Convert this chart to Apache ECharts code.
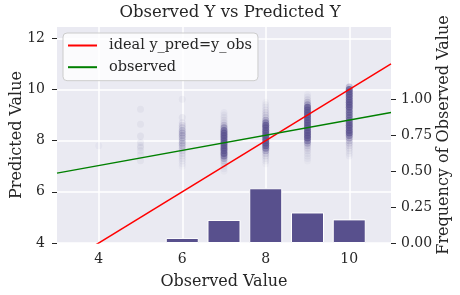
<!DOCTYPE html>
<html>
<head>
<meta charset="utf-8">
<script src="https://cdn.jsdelivr.net/npm/echarts@6/dist/echarts.min.js"></script>
<style>
html,body{margin:0;padding:0;background:#fff;}
#chart{width:460px;height:295px;}
</style>
</head>
<body>
<div id="chart"></div>
<script>
// ---- data ----
const xTicks = [4, 6, 8, 10];
const yLeftTicks = [4, 6, 8, 10, 12];
const yRightTicks = [0, 0.25, 0.5, 0.75, 1.0];

const barX = [6, 7, 8, 9, 10];
const barFreq = [0.035, 0.16, 0.38, 0.212, 0.164];

const idealX = [3, 11];
const idealY = [3, 11];
const obsX = [3, 11];
const obsY = [6.73, 9.1];

// predicted values per observed value, with estimated density (opacity) of each
const pred4 = [7.8];
const dens4 = [0.04];
const pred5 = [9.23, 8.64, 8.18, 7.93, 7.8, 7.73, 7.6, 7.45, 7.21];
const dens5 = [0.06, 0.06, 0.07, 0.07, 0.05, 0.07, 0.06, 0.06, 0.06];
const pred6 = [9.62, 8.9, 8.7, 8.6, 8.5, 8.4, 8.3, 8.2, 8.1, 8.0, 7.9, 7.8, 7.7, 7.6, 7.5, 7.4, 7.3, 7.2, 7.1, 7.0];
const dens6 = [0.05, 0.07, 0.08, 0.12, 0.15, 0.22, 0.25, 0.25, 0.22, 0.22, 0.22, 0.18, 0.15, 0.12, 0.09, 0.07, 0.06, 0.05, 0.04, 0.03];
const pred7 = [9.1, 9.0, 8.9, 8.8, 8.7, 8.6, 8.5, 8.4, 8.3, 8.2, 8.1, 8.0, 7.9, 7.8, 7.7, 7.6, 7.5, 7.4, 7.3, 7.2, 7.1, 7.0, 6.9, 6.8];
const dens7 = [0.04, 0.05, 0.06, 0.08, 0.1, 0.2, 0.4, 0.6, 0.7, 0.7, 0.7, 0.7, 0.7, 0.7, 0.7, 0.7, 0.7, 0.5, 0.3, 0.15, 0.1, 0.06, 0.04, 0.03];
const pred8 = [9.5, 9.4, 9.3, 9.2, 9.1, 9.0, 8.9, 8.8, 8.7, 8.6, 8.5, 8.4, 8.3, 8.2, 8.1, 8.0, 7.9, 7.8, 7.7, 7.6, 7.5, 7.4, 7.3, 7.2, 7.1];
const dens8 = [0.03, 0.05, 0.06, 0.08, 0.1, 0.12, 0.15, 0.3, 0.5, 0.7, 0.7, 0.7, 0.7, 0.7, 0.7, 0.7, 0.7, 0.7, 0.5, 0.3, 0.15, 0.1, 0.06, 0.05, 0.03];
const pred9 = [9.8, 9.7, 9.6, 9.5, 9.4, 9.3, 9.2, 9.1, 9.0, 8.9, 8.8, 8.7, 8.6, 8.5, 8.4, 8.3, 8.2, 8.1, 8.0, 7.9, 7.8, 7.7, 7.6, 7.5, 7.4, 7.3, 7.2];
const dens9 = [0.04, 0.06, 0.1, 0.2, 0.35, 0.7, 0.7, 0.7, 0.7, 0.7, 0.7, 0.7, 0.7, 0.7, 0.7, 0.7, 0.7, 0.7, 0.5, 0.3, 0.15, 0.1, 0.08, 0.06, 0.05, 0.04, 0.03];
const pred10 = [10.1, 10.0, 9.9, 9.8, 9.7, 9.6, 9.5, 9.4, 9.3, 9.2, 9.1, 9.0, 8.9, 8.8, 8.7, 8.6, 8.5, 8.4, 8.3, 8.2, 8.1, 8.0, 7.9, 7.8, 7.7, 7.6, 7.5, 7.4];
const dens10 = [0.3, 0.7, 0.7, 0.7, 0.7, 0.7, 0.7, 0.7, 0.7, 0.55, 0.55, 0.55, 0.55, 0.55, 0.7, 0.7, 0.7, 0.7, 0.7, 0.5, 0.3, 0.2, 0.15, 0.1, 0.08, 0.06, 0.05, 0.04];

const scatterGroups = [
  [4, pred4, dens4], [5, pred5, dens5], [6, pred6, dens6], [7, pred7, dens7],
  [8, pred8, dens8], [9, pred9, dens9], [10, pred10, dens10]
];

// ---- build ----
const FONT = 'DejaVu Serif';
const TXT = '#262626';
const PURPLE = '#58508D';

const scatterData = [];
scatterGroups.forEach(([x, ys, ds]) => {
  ys.forEach((y, i) => scatterData.push({ value: [x, y], itemStyle: { opacity: ds[i] } }));
});

const chart = echarts.init(document.getElementById('chart'), null, { renderer: 'canvas' });
chart.setOption({
  animation: false,
  backgroundColor: '#ffffff',
  textStyle: { fontFamily: FONT, color: TXT },
  title: {
    text: 'Observed Y vs Predicted Y',
    left: 'center', top: 0, padding: [4, 5],
    textStyle: { fontFamily: FONT, fontSize: 16.5, fontWeight: 'normal', color: TXT }
  },
  grid: {
    left: 57, right: 69, top: 27, bottom: 52,
    outerBoundsMode: 'none', containLabel: false,
    show: true, backgroundColor: '#EAEAF2', borderWidth: 0
  },
  legend: {
    orient: 'vertical', left: 63, top: 33,
    backgroundColor: 'rgba(255,255,255,0.8)', borderColor: '#CCCCCC', borderWidth: 1, borderRadius: 4,
    padding: [4, 6, 5, 5], itemGap: 4.7, itemWidth: 29, itemHeight: 2,
    data: [{ name: 'ideal y_pred=y_obs', icon: 'rect' }, { name: 'observed', icon: 'rect' }],
    textStyle: { fontFamily: FONT, fontSize: 14.5, color: TXT, lineHeight: 17, padding: [0, 0, 0, 7] }
  },
  xAxis: {
    type: 'value', min: 3, max: 11,
    name: 'Observed Value', nameLocation: 'middle', nameGap: 31, nameMoveOverlap: false,
    nameTextStyle: { fontFamily: FONT, fontSize: 16, color: TXT },
    axisLine: { show: false },
    axisTick: { show: false, customValues: xTicks },
    axisLabel: { customValues: xTicks, margin: 9, fontFamily: FONT, fontSize: 14, color: TXT },
    splitLine: { show: true, lineStyle: { color: '#ffffff', width: 1.5 } }
  },
  yAxis: [
    {
      type: 'value', min: 4, max: 12.44, position: 'left',
      name: 'Predicted Value', nameLocation: 'middle', nameGap: 32, nameRotate: 90, nameMoveOverlap: false,
      nameTextStyle: { fontFamily: FONT, fontSize: 16, color: TXT },
      axisLine: { show: false },
      axisTick: { show: true, length: 5, customValues: yLeftTicks, lineStyle: { color: TXT, width: 1 } },
      axisLabel: { customValues: yLeftTicks, margin: 12, fontFamily: FONT, fontSize: 14, color: TXT },
      splitLine: { show: true, lineStyle: { color: '#ffffff', width: 1.5 } }
    },
    {
      type: 'value', min: 0, max: 1.5, position: 'right',
      name: 'Frequency of Observed Value', nameLocation: 'middle', nameGap: 45, nameRotate: 90, nameMoveOverlap: false,
      nameTextStyle: { fontFamily: FONT, fontSize: 16, color: TXT },
      axisLine: { show: false },
      axisTick: { show: true, length: 5, customValues: yRightTicks, lineStyle: { color: TXT, width: 1 } },
      axisLabel: { customValues: yRightTicks, margin: 10, fontFamily: FONT, fontSize: 14, color: TXT,
        formatter: v => v.toFixed(2) },
      splitLine: { show: false }
    }
  ],
  series: [
    {
      type: 'scatter', name: 'pred', yAxisIndex: 0, z: 2,
      symbolSize: 7, itemStyle: { color: PURPLE },
      data: scatterData
    },
    {
      type: 'bar', name: 'freq', yAxisIndex: 1, z: 2,
      barWidth: 33,
      itemStyle: { color: PURPLE, borderColor: '#ffffff', borderWidth: 1 },
      data: barX.map((x, i) => [x, barFreq[i]])
    },
    {
      type: 'line', name: 'ideal y_pred=y_obs', yAxisIndex: 0, z: 4,
      showSymbol: false, symbol: 'none', clip: true,
      lineStyle: { color: '#FF0000', width: 1.5 }, itemStyle: { color: '#FF0000' },
      data: idealX.map((x, i) => [x, idealY[i]])
    },
    {
      type: 'line', name: 'observed', yAxisIndex: 0, z: 4,
      showSymbol: false, symbol: 'none', clip: true,
      lineStyle: { color: '#008000', width: 1.5 }, itemStyle: { color: '#008000' },
      data: obsX.map((x, i) => [x, obsY[i]])
    }
  ]
});
</script>
</body>
</html>
